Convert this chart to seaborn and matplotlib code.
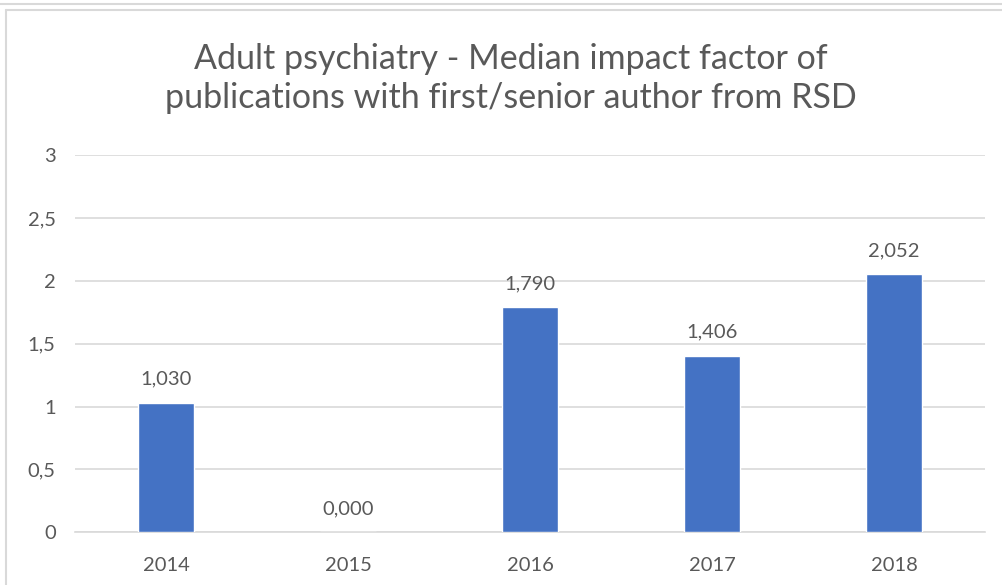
import seaborn as sns
import pandas as pd
import matplotlib.pyplot as plt
from matplotlib.lines import Line2D

# data
years = ["2014", "2015", "2016", "2017", "2018"]
impact = [1.030, 0.000, 1.790, 1.406, 2.052]
bar_labels = ["1,030", "0,000", "1,790", "1,406", "2,052"]
y_ticks = [0, 0.5, 1, 1.5, 2, 2.5, 3]
y_tick_labels = ["0", "0,5", "1", "1,5", "2", "2,5", "3"]

df = pd.DataFrame({"year": years, "impact": impact})

sns.set_style("white")
plt.rcParams["font.family"] = ["Lato", "DejaVu Sans"]
text_col = "#595959"

fig = plt.figure(figsize=(10.02, 5.85), dpi=100)
ax = fig.add_axes([0.075, 0.09, 0.908, 0.645])

sns.barplot(x="year", y="impact", data=df, color="#4472c4", width=0.31,
            saturation=1, ax=ax, zorder=3)

for i, (v, lab) in enumerate(zip(impact, bar_labels)):
    ax.text(i, v + 0.12, lab, ha="center", va="bottom", fontsize=14.5, color=text_col)

ax.set_ylim(0, 3)
ax.set_xlim(-0.5, 4.5)
ax.set_yticks(y_ticks)
ax.set_yticklabels(y_tick_labels)
ax.yaxis.grid(True, color="#d9d9d9", linewidth=1.2, zorder=0)
ax.set_axisbelow(True)
for s in ["top", "right", "left"]:
    ax.spines[s].set_visible(False)
ax.spines["bottom"].set_color("#d9d9d9")
ax.spines["bottom"].set_linewidth(1.2)
ax.tick_params(axis="both", length=0, labelsize=14.5, labelcolor=text_col, pad=14)
ax.tick_params(axis="x", pad=18)
ax.set_xlabel("")
ax.set_ylabel("")

fig.text(0.51, 0.866, "Adult psychiatry - Median impact factor of\npublications with first/senior author from RSD",
         ha="center", va="center", fontsize=24.5, color=text_col, linespacing=1.25)

# chart frame borders
fig.add_artist(Line2D([0, 1], [0.993, 0.993], color="#d9d9d9", lw=1.5))
fig.add_artist(Line2D([0.006, 1], [0.983, 0.983], color="#d9d9d9", lw=1.5))
fig.add_artist(Line2D([0.006, 0.006], [0, 0.983], color="#d9d9d9", lw=1.5))

fig.savefig("out.png", dpi=100)
